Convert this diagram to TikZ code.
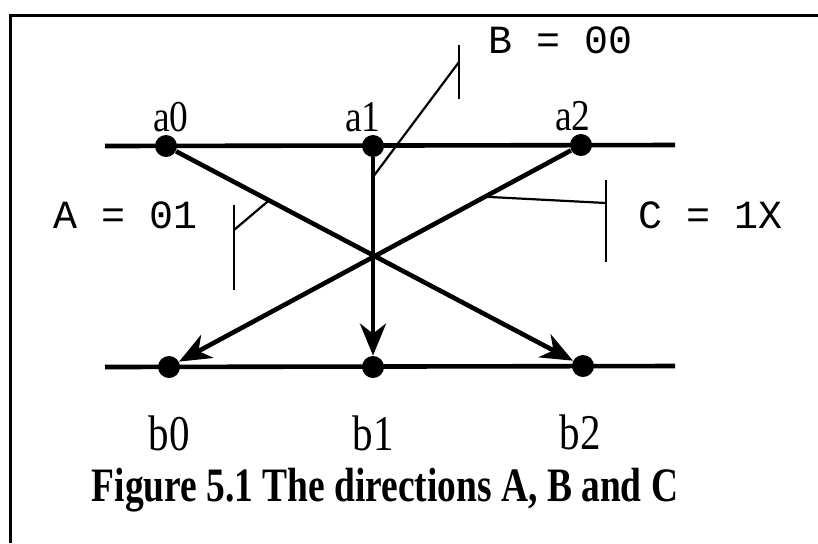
\documentclass[tikz,border=0pt]{standalone}
\usepackage{graphicx}
\usepackage{fontspec}
\setmainfont{Liberation Serif}
\setmonofont{Liberation Mono}
\usetikzlibrary{arrows.meta, positioning, calc}

\begin{document}
\begin{tikzpicture}[
    x=0.5pt, y=-0.5pt,
    dot/.style={
        circle,
        fill=black,
        inner sep=0pt,
        minimum size=11pt
    },
    axis/.style={
        line width=2.3pt
    },
    move/.style={
        line width=2.3pt,
        -{Stealth[length=16pt, width=13pt, inset=5pt]}
    },
    tick/.style={
        line width=1.1pt
    },
    toplabel/.style={
        inner sep=0pt,
        font=\fontsize{22}{22}\selectfont
    },
    botlabel/.style={
        inner sep=0pt,
        font=\fontsize{25}{25}\selectfont
    },
    dirlabel/.style={
        inner sep=0pt,
        anchor=west,
        font=\ttfamily\fontsize{20}{20}\selectfont
    },
    caption/.style={
        inner sep=0pt,
        font=\fontsize{24}{24}\selectfont\bfseries
    }
]
\useasboundingbox (0,0) rectangle (818,543);

% frame (top and left edges only)
\draw[line width=1.5pt] (10,543) -- (10,15) -- (818,15);

% the two rows
\draw[axis] (105,146) -- (675,145);
\draw[axis] (105,367) -- (675,366);

% vertices
\node[dot] (a0) at (166,146) {};
\node[dot] (a1) at (373,146) {};
\node[dot] (a2) at (581,145) {};
\node[dot] (b0) at (169,367) {};
\node[dot] (b1) at (373,367) {};
\node[dot] (b2) at (583,366) {};

% vertex labels
\node[toplabel, above=1pt of a0, xshift=2.5pt] (la0) {\scalebox{0.85}[1]{a0}};
\node[toplabel, above=1pt of a1, xshift=-5pt] (la1) {\scalebox{0.85}[1]{a1}};
\node[toplabel, above=1pt of a2, xshift=-4pt] (la2) {\scalebox{0.85}[1]{a2}};
\node[botlabel, below=18.5pt of b0] (lb0) {\scalebox{0.82}[1]{b0}};
\node[botlabel, below=18.5pt of b1] (lb1) {\scalebox{0.82}[1]{b1}};
\node[botlabel, below=18.5pt of b2, xshift=-1.5pt] (lb2) {\scalebox{0.82}[1]{b2}};

% the three directions
\draw[move] (a0) -- (b2);
\draw[move] (a1) -- (b1);
\draw[move] (a2) -- (b0);

% direction A
\coordinate (A-hit) at ($(a0)!0.247!(b2)$);
\coordinate (A-top) at (234,205);
\coordinate (A-bot) at (234,290);
\coordinate (A-join) at (234,230);
\draw[tick] (A-top) -- (A-bot);
\draw[tick] (A-join) -- (A-hit);
\node[dirlabel] (labA) at (53,215) {A = 01};

% direction B
\coordinate (B-hit) at ($(a1)!0.14!(b1)$);
\coordinate (B-top) at (459,45);
\coordinate (B-bot) at (459,99);
\coordinate (B-join) at (459,62);
\draw[tick] (B-top) -- (B-bot);
\draw[tick] (B-join) -- (B-hit);
\node[dirlabel] (labB) at (488,40) {B = 00};

% direction C
\coordinate (C-hit) at ($(a2)!0.233!(b0)$);
\coordinate (C-top) at (606,180);
\coordinate (C-bot) at (606,262);
\coordinate (C-join) at (606,203);
\draw[tick] (C-top) -- (C-bot);
\draw[tick] (C-join) -- (C-hit);
\node[dirlabel] (labC) at (638,215) {C = 1X};

% caption
\node[caption] (cap) at (385,490) {\scalebox{0.78}[1]{Figure 5.1 The directions A, B and C}};

\end{tikzpicture}
\end{document}
